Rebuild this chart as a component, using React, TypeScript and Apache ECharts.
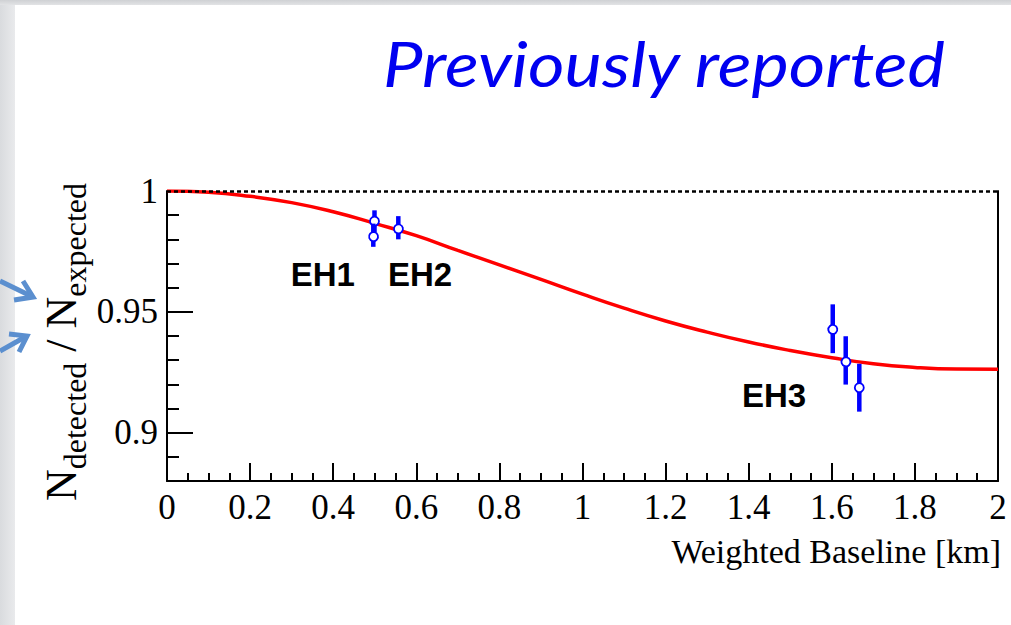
import { useEffect, useRef } from "react";
import * as echarts from "echarts";

// Oscillation survival curve, sampled along the baseline (km)
const curveX = [0, 0.1, 0.2, 0.3, 0.4, 0.5, 0.6, 0.7, 0.8, 0.9, 1.0, 1.1, 1.2, 1.3, 1.4, 1.5, 1.6, 1.7, 1.8, 1.9, 2.0];
const curveY = [1.0, 0.9995, 0.9978, 0.9952, 0.9914, 0.9866, 0.9815, 0.9754, 0.9694, 0.9634, 0.9573, 0.9515, 0.9462, 0.9416, 0.9375, 0.934, 0.931, 0.9285, 0.927, 0.9263, 0.9262];

// Per-detector measurements: weighted baseline, ratio, uncertainty
const detX = [0.4994, 0.4965, 0.5567, 1.6023, 1.6335, 1.6662];
const detY = [0.9875, 0.9817, 0.9848, 0.943, 0.9299, 0.9186];
const detErr = [0.0045, 0.0048, 0.0048, 0.0101, 0.01, 0.0099];

// Experimental hall labels
const hallNames = ["EH1", "EH2", "EH3"];
const hallX = [0.375, 0.609, 1.461];
const hallY = [0.9655, 0.9655, 0.9154];

const yLabelValues = [0.9, 0.95, 1];
const yMajorTicks = [0.9, 0.95];

const SERIF = '"Liberation Serif", "Times New Roman", serif';
const SANS = '"Liberation Sans", Arial, sans-serif';

function measure(text: string, font: string): number {
  const ctx = document.createElement("canvas").getContext("2d");
  if (!ctx) return text.length * 10;
  ctx.font = font;
  return ctx.measureText(text).width;
}

function yTitle(): any {
  const big = 44;
  const small = 32;
  const subShift = 8;
  const parts: [string, boolean][] = [
    ["N", false],
    ["detected", true],
    [" / ", false],
    ["N", false],
    ["expected", true],
  ];
  let pos = 0;
  const children: any[] = [];
  for (const [t, sub] of parts) {
    const size = sub ? small : big;
    const font = `${size}px ${SERIF}`;
    children.push({
      type: "text",
      x: pos,
      y: sub ? subShift : 0,
      style: {
        text: t,
        font,
        fill: "#000",
        align: "left",
        verticalAlign: "bottom",
      },
    });
    pos += measure(t, font);
  }
  return { type: "group", x: 83, y: 501, rotation: Math.PI / 2, children };
}

export default function App() {
  const ref = useRef<HTMLDivElement>(null);

  useEffect(() => {
    document.body.style.margin = "0";
    if (!ref.current) return;
    const chart = echarts.init(ref.current, undefined, { renderer: "svg" });

    const curve = curveX.map((x, i) => [x, curveY[i]]);
    const points = detX.map((x, i) => [x, detY[i], detErr[i]]);
    const halls = hallNames.map((n, i) => ({ name: n, value: [hallX[i], hallY[i]] }));

    const blue = "#5b8fcf";

    chart.setOption({
      animation: false,
      backgroundColor: "#ffffff",
      grid: { left: 167, right: 13, top: 191, bottom: 144 },
      xAxis: {
        type: "value",
        min: 0,
        max: 2,
        interval: 0.2,
        axisLine: { lineStyle: { color: "#000", width: 2 } },
        axisTick: { inside: true, length: 18, lineStyle: { color: "#000", width: 2 } },
        minorTick: { show: true, splitNumber: 4, length: 8, lineStyle: { color: "#000", width: 2 } },
        axisLabel: { color: "#000", fontFamily: SERIF, fontSize: 35, margin: 9 },
        splitLine: { show: false },
      },
      yAxis: [
        {
          type: "value",
          min: 0.88,
          max: 1,
          interval: 0.01,
          position: "left",
          axisLine: { show: true, lineStyle: { color: "#000", width: 2 } },
          axisTick: { show: true, inside: true, length: 12, lineStyle: { color: "#000", width: 2 } },
          axisLabel: { show: false },
          splitLine: { show: false },
        },
        {
          type: "value",
          min: 0.88,
          max: 1,
          position: "left",
          axisLine: { show: false },
          axisTick: {
            show: true,
            inside: true,
            length: 26,
            customValues: yMajorTicks,
            lineStyle: { color: "#000", width: 2 },
          },
          axisLabel: {
            show: true,
            customValues: yLabelValues,
            color: "#000",
            fontFamily: SERIF,
            fontSize: 35,
            margin: 9,
          },
          splitLine: { show: false },
        },
        {
          type: "value",
          min: 0.88,
          max: 1,
          position: "right",
          axisLine: { show: true, lineStyle: { color: "#000", width: 2 } },
          axisTick: { show: false },
          axisLabel: { show: false },
          splitLine: { show: false },
        },
      ],
      series: [
        {
          type: "line",
          data: curve,
          smooth: true,
          showSymbol: false,
          lineStyle: { color: "#ff0000", width: 3.5 },
          z: 2,
          markLine: {
            silent: true,
            symbol: "none",
            label: { show: false },
            lineStyle: { color: "#000", width: 2.5, type: [4, 3] },
            data: [{ yAxis: 1 }],
          },
        },
        {
          type: "custom",
          data: points,
          z: 3,
          renderItem: (_params: any, api: any) => {
            const x = api.value(0);
            const y = api.value(1);
            const e = api.value(2);
            const c = api.coord([x, y]);
            const top = api.coord([x, y + e]);
            const bot = api.coord([x, y - e]);
            return {
              type: "group",
              children: [
                {
                  type: "line",
                  shape: { x1: c[0], y1: top[1], x2: c[0], y2: bot[1] },
                  style: { stroke: "#0000ff", lineWidth: 4.5 },
                },
                {
                  type: "circle",
                  shape: { cx: c[0], cy: c[1], r: 4.5 },
                  style: { fill: "#ffffff", stroke: "#0000ff", lineWidth: 1.8 },
                },
              ],
            };
          },
        },
        {
          type: "scatter",
          data: halls,
          symbol: "circle",
          symbolSize: 1,
          itemStyle: { color: "transparent", opacity: 1 },
          label: {
            show: true,
            position: "inside",
            formatter: "{b}",
            color: "#000",
            opacity: 1,
            fontFamily: SANS,
            fontWeight: "bold",
            fontSize: 33,
          },
          z: 4,
        },
      ],
      graphic: [
        {
          type: "rect",
          z: -10,
          shape: { x: 0, y: 0, width: 15, height: 625 },
          style: {
            fill: new echarts.graphic.LinearGradient(0, 0, 1, 0, [
              { offset: 0, color: "#d9dbde" },
              { offset: 1, color: "#e9eaec" },
            ]),
          },
        },
        {
          type: "rect",
          z: -10,
          shape: { x: 0, y: 0, width: 1011, height: 5 },
          style: {
            fill: new echarts.graphic.LinearGradient(0, 0, 0, 1, [
              { offset: 0, color: "#cfd1d4" },
              { offset: 1, color: "#e2e3e5" },
            ]),
          },
        },
        {
          type: "polyline",
          shape: { points: [[0, 281], [31, 296]] },
          style: { stroke: blue, lineWidth: 5, fill: null },
        },
        {
          type: "polyline",
          shape: { points: [[23, 281], [33, 297], [14, 300]] },
          style: { stroke: blue, lineWidth: 5, fill: null, lineJoin: "miter" },
        },
        {
          type: "polyline",
          shape: { points: [[0, 351], [25, 337]] },
          style: { stroke: blue, lineWidth: 5, fill: null },
        },
        {
          type: "polyline",
          shape: { points: [[9, 334], [27, 336], [19, 352]] },
          style: { stroke: blue, lineWidth: 5, fill: null, lineJoin: "miter" },
        },
        {
          type: "text",
          x: 383,
          y: 63,
          scaleX: 1.12,
          style: {
            text: "Previously reported",
            font: 'italic 63px Lato, "Open Sans", sans-serif',
            fill: "#0000f0",
            align: "left",
            verticalAlign: "middle",
          },
        },
        {
          type: "text",
          x: 1001,
          y: 551,
          style: {
            text: "Weighted Baseline [km]",
            font: `34px ${SERIF}`,
            fill: "#000",
            align: "right",
            verticalAlign: "middle",
          },
        },
        yTitle(),
      ],
    });

    return () => chart.dispose();
  }, []);

  return <div ref={ref} style={{ width: 1011, height: 625 }} />;
}
